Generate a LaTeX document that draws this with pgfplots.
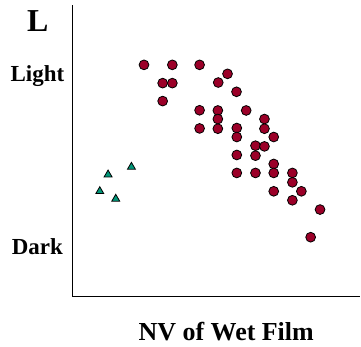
\documentclass[border=0pt]{standalone}
\usepackage{fontspec}
\setmainfont{Liberation Serif}
\usepackage{pgfplots}
\pgfplotsset{compat=1.18}
\definecolor{dotred}{RGB}{155,0,40}
\definecolor{trigreen}{RGB}{0,150,120}
\begin{document}
\begin{tikzpicture}
\begin{axis}[
  scale only axis, width=288.5pt, height=292.3pt,
  xmin=72.5, xmax=361, ymin=49.7, ymax=342,
  axis x line=bottom, axis y line=left,
  axis line style={-, line width=1.5pt},
  xtick=\empty, ytick=\empty, clip=false]
\addplot[only marks, mark=*, mark size=4.9pt, mark options={fill=dotred, draw=black, line width=0.8pt}] coordinates {
(144.3,282) (172.7,282) (200,282) (163,263.7) (172.7,263.7) (163,245.7) (200,236.5) (200,218.3)
(218.3,236.3) (246.7,236.3) (218.3,227.7) (265,227.7) (218.3,218) (237.3,218.7) (265,218)
(237.3,209.7) (274.3,209.7) (256,201) (265,200.3) (237.3,191.7) (256,191) (274.3,182.7)
(237.3,173.7) (256,173.7) (274.3,173.7) (293,173.7) (293,164.3) (274.3,155.3) (302,155.3)
(293,146.3) (320.7,137) (311.3,109.3)
(228,273) (218.7,264.3) (237,255)
};
\addplot[only marks, mark=triangle*, mark size=4.6pt, mark options={fill=trigreen, draw=black, line width=0.8pt}] coordinates {
(131.7,179.7) (108.3,172) (100,155.3) (116,147.7)
};
\path (axis cs:0,0) rectangle (axis cs:361,347);
\node[anchor=base, font=\bfseries\fontsize{32}{36}\selectfont] at (axis cs:37.8,315.3) {L};
\node[anchor=base, font=\bfseries\fontsize{23}{27}\selectfont] at (axis cs:37.5,265.3) {Light};
\node[anchor=base, font=\bfseries\fontsize{23}{27}\selectfont] at (axis cs:37.5,92) {Dark};
\node[anchor=base, font=\bfseries\fontsize{26}{30}\selectfont] at (axis cs:226.7,5.3) {NV of Wet Film};
\end{axis}
\end{tikzpicture}
\end{document}
